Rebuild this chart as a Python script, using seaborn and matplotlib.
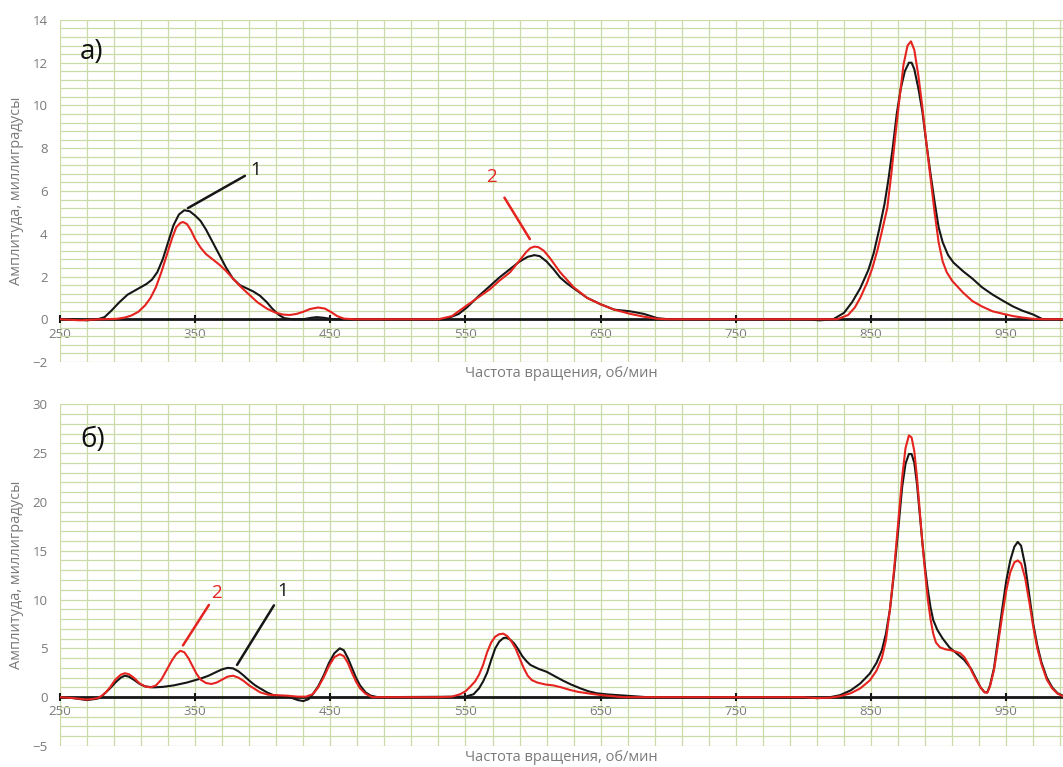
import numpy as np
import pandas as pd
import matplotlib.pyplot as plt
import seaborn as sns
from matplotlib.ticker import MultipleLocator

# а) верхний график: кривая 1 (чёрная) и кривая 2 (красная)
rpm_a1 = [250, 260, 270, 278, 283, 288, 294, 300, 307, 314, 318, 322, 326, 330, 334, 338, 342, 346,
          350, 354, 358, 363, 368, 373, 378, 383, 388, 393, 398, 403, 407, 412, 416, 422, 430, 436,
          440, 445, 452, 500, 535, 545, 551, 560, 568, 575, 583, 590, 596, 601, 605, 610, 615, 620,
          625, 630, 640, 650, 660, 672, 682, 692, 700, 750, 800, 812, 822, 830, 836, 842, 848, 852,
          856, 860, 863, 866, 869, 872, 875, 878, 880, 882, 885, 888, 891, 894, 897, 900, 903, 907,
          911, 918, 925, 932, 940, 948, 955, 962, 970, 977, 985, 995]
amp_a1 = [0, 0, -0.05, 0, 0.1, 0.4, 0.8, 1.15, 1.4, 1.65, 1.85, 2.2, 2.8, 3.6, 4.4, 4.9, 5.1, 5.05,
          4.85, 4.6, 4.2, 3.6, 3.0, 2.4, 1.9, 1.6, 1.45, 1.3, 1.1, 0.8, 0.5, 0.2, 0.05, 0, 0, 0.07,
          0.1, 0.07, 0, 0, 0, 0.25, 0.55, 1.1, 1.55, 1.95, 2.35, 2.7, 2.92, 3.0, 2.95, 2.7, 2.35, 1.95,
          1.68, 1.45, 1.0, 0.7, 0.45, 0.37, 0.25, 0.05, 0, 0, 0, -0.05, 0, 0.3, 0.8, 1.45, 2.3, 3.1,
          4.2, 5.4, 6.6, 8.0, 9.6, 10.8, 11.6, 12.0, 12.0, 11.7, 10.8, 9.7, 8.2, 6.8, 5.5, 4.3, 3.6, 3.0,
          2.65, 2.25, 1.9, 1.5, 1.15, 0.85, 0.6, 0.4, 0.22, 0.0, 0, 0]

rpm_a2 = [250, 265, 280, 292, 298, 303, 308, 313, 317, 321, 325, 329, 333, 336, 339, 341, 344, 347,
          350, 354, 358, 363, 368, 373, 378, 384, 390, 396, 403, 409, 415, 420, 425, 430, 435, 441,
          446, 451, 455, 460, 468, 530, 540, 551, 560, 568, 575, 583, 590, 595, 598, 601, 604, 608,
          612, 616, 620, 625, 630, 640, 650, 660, 672, 682, 692, 700, 800, 825, 833, 838, 842, 847,
          851, 855, 858, 862, 865, 868, 871, 874, 877, 879.5, 882, 885, 888, 891, 894, 897, 900, 903,
          906, 910, 918, 925, 932, 940, 948, 955, 962, 970, 978, 995]
amp_a2 = [0, -0.05, 0, 0.02, 0.08, 0.18, 0.35, 0.65, 1.0, 1.5, 2.2, 3.0, 3.8, 4.3, 4.5, 4.55, 4.45, 4.15,
          3.75, 3.35, 3.05, 2.8, 2.55, 2.25, 1.9, 1.5, 1.15, 0.8, 0.5, 0.32, 0.22, 0.2, 0.25, 0.35, 0.48, 0.55,
          0.5, 0.32, 0.15, 0.03, 0, 0, 0.15, 0.65, 1.05, 1.4, 1.8, 2.2, 2.75, 3.15, 3.33, 3.4, 3.37, 3.2,
          2.9, 2.55, 2.2, 1.85, 1.5, 1.0, 0.7, 0.45, 0.25, 0.12, 0.02, 0, 0, 0, 0.2, 0.55, 1.0, 1.7,
          2.4, 3.3, 4.1, 5.2, 6.8, 8.6, 10.3, 11.9, 12.8, 13.0, 12.6, 11.4, 9.9, 8.2, 6.6, 5.0, 3.6, 2.7,
          2.2, 1.8, 1.25, 0.85, 0.6, 0.37, 0.25, 0.15, 0.08, 0.02, 0, 0]

# б) нижний график
rpm_b1 = [250, 260, 270, 278, 281, 284, 287, 291, 295, 298, 301, 305, 309, 313, 319, 326, 334, 344,
          354, 360, 366, 370, 374, 378, 382, 386, 390, 394, 398, 403, 408, 415, 420, 426, 430, 434,
          437, 441, 445, 449, 453, 457, 460, 463, 466, 469, 472, 476, 480, 485, 550, 556, 560, 563,
          566, 569, 572, 575, 578, 580, 583, 586, 589, 592, 595, 598, 604, 610, 616, 622, 628, 635,
          641, 647, 655, 664, 674, 684, 800, 810, 818, 827, 835, 842, 849, 854, 858, 861, 864, 867,
          870, 873, 875.5, 878, 880, 882, 884, 886, 888, 890, 892, 894, 896, 899, 903, 908, 914, 919,
          924, 928, 931, 934, 936, 938, 941, 944, 947, 950, 953, 956, 958.5, 961, 964, 967, 970, 973,
          976, 980, 984, 988, 992, 995]
amp_b1 = [0, -0.1, -0.3, -0.15, 0.1, 0.5, 0.9, 1.5, 2.0, 2.2, 2.1, 1.75, 1.35, 1.1, 1.0, 1.05, 1.2, 1.5,
          1.9, 2.2, 2.6, 2.85, 3.0, 2.95, 2.65, 2.2, 1.7, 1.25, 0.9, 0.5, 0.2, 0.05, 0, -0.3, -0.4, -0.2,
          0.3, 1.1, 2.2, 3.5, 4.5, 5.0, 4.8, 4.0, 3.0, 2.0, 1.2, 0.5, 0.15, 0, 0.05, 0.3, 0.9, 1.6,
          2.5, 3.8, 5.0, 5.7, 6.05, 6.1, 5.9, 5.5, 4.9, 4.2, 3.7, 3.3, 2.9, 2.6, 2.15, 1.7, 1.3, 0.9,
          0.6, 0.4, 0.28, 0.2, 0.1, 0, 0, -0.1, -0.05, 0.2, 0.7, 1.4, 2.4, 3.5, 4.8, 6.5, 9.0, 12.7,
          17.0, 21.5, 23.9, 24.9, 24.9, 24.0, 21.8, 18.8, 15.8, 13.2, 11.0, 9.2, 7.9, 6.9, 6.0, 5.1, 4.4, 3.8,
          2.9, 1.8, 1.0, 0.5, 0.5, 1.2, 3.0, 6.0, 9.0, 11.9, 14.0, 15.4, 15.9, 15.5, 13.5, 10.5, 7.5, 5.3,
          3.6, 2.0, 1.0, 0.4, 0.15, 0.05]

rpm_b2 = [250, 260, 270, 278, 281, 284, 287, 291, 295, 298, 301, 305, 309, 313, 317, 321, 325, 329,
          333, 336, 339, 342, 345, 348, 351, 354, 358, 362, 366, 370, 374, 378, 382, 386, 390, 394,
          398, 404, 410, 418, 426, 432, 437, 441, 445, 449, 453, 457, 460, 463, 466, 469, 472, 476,
          481, 530, 540, 546, 550, 553, 557, 560, 563, 566, 569, 572, 575, 578, 581, 584, 587, 590,
          593, 596, 599, 603, 609, 615, 621, 627, 633, 640, 648, 657, 667, 800, 810, 820, 827, 835,
          842, 849, 854, 858, 861, 864, 867, 870, 873, 875.5, 878, 880, 882, 884, 886, 888, 890, 892,
          894, 896, 898, 901, 905, 909, 913, 916, 919, 922, 925, 928, 931, 934, 936, 938, 941, 944,
          947, 950, 953, 956, 958.5, 961, 964, 967, 970, 973, 976, 980, 984, 988, 992, 995]
amp_b2 = [0, -0.1, -0.25, -0.1, 0.15, 0.5, 1.0, 1.8, 2.3, 2.45, 2.35, 1.95, 1.4, 1.1, 1.0, 1.2, 1.8, 2.8,
          3.8, 4.4, 4.75, 4.6, 4.0, 3.2, 2.4, 1.8, 1.45, 1.35, 1.5, 1.8, 2.1, 2.2, 2.0, 1.65, 1.2, 0.85,
          0.5, 0.25, 0.2, 0.15, 0.05, 0.05, 0.3, 1.0, 2.0, 3.2, 4.1, 4.4, 4.2, 3.5, 2.5, 1.6, 0.9, 0.35,
          0, 0, 0.05, 0.3, 0.6, 1.0, 1.6, 2.3, 3.3, 4.6, 5.6, 6.2, 6.45, 6.5, 6.25, 5.7, 5.0, 4.0,
          3.0, 2.2, 1.75, 1.5, 1.3, 1.2, 1.0, 0.75, 0.55, 0.4, 0.25, 0.12, 0, 0, -0.1, -0.05, 0.1, 0.4,
          0.9, 1.7, 2.7, 4.0, 5.8, 9.0, 13.0, 17.8, 22.5, 25.5, 26.8, 26.6, 25.2, 22.5, 19.2, 15.8, 12.8, 10.0,
          8.0, 6.5, 5.6, 5.1, 4.9, 4.8, 4.65, 4.5, 4.1, 3.4, 2.5, 1.7, 1.0, 0.5, 0.45, 1.1, 2.8, 5.5,
          8.3, 10.9, 12.8, 13.8, 14.0, 13.7, 12.2, 9.8, 7.2, 5.0, 3.4, 1.8, 0.9, 0.35, 0.1, 0.05]

x_ticks = [250, 350, 450, 550, 650, 750, 850, 950]

GRID = '#cbdba8'
GRAY = '#7a7a7a'
RED = '#e5231f'
BLACK = '#161616'

sns.set_theme(style='white')
plt.rcParams['font.family'] = ['Open Sans', 'DejaVu Sans']


def draw_panel(ax, rpm1, amp1, rpm2, amp2, ylim, ystep, yminor, letter, notes):
    df1 = pd.DataFrame({'rpm': rpm1, 'amp': amp1})
    df2 = pd.DataFrame({'rpm': rpm2, 'amp': amp2})
    sns.lineplot(data=df1, x='rpm', y='amp', ax=ax, color=BLACK, lw=1.5, zorder=4,
                 solid_joinstyle='round')
    sns.lineplot(data=df2, x='rpm', y='amp', ax=ax, color=RED, lw=1.5, zorder=5,
                 solid_joinstyle='round')

    ax.set_xlim(250, 992)
    ax.set_ylim(*ylim)
    ax.set_xticks(x_ticks)
    ax.xaxis.set_minor_locator(MultipleLocator(20, offset=10))
    ax.yaxis.set_major_locator(MultipleLocator(ystep))
    ax.yaxis.set_minor_locator(MultipleLocator(yminor))
    ax.grid(which='both', color=GRID, lw=0.9)
    ax.set_axisbelow(True)

    for s in ['top', 'right', 'left']:
        ax.spines[s].set_visible(False)
    ax.spines['bottom'].set_position(('data', 0))
    ax.spines['bottom'].set_color(BLACK)
    ax.spines['bottom'].set_linewidth(2.0)
    ax.spines['bottom'].set_zorder(3)

    ax.tick_params(axis='x', which='major', direction='inout', length=6, width=1.5,
                   color=BLACK, labelcolor=GRAY, labelsize=9.5, pad=3, bottom=True)
    ax.tick_params(axis='x', which='minor', length=0)
    ax.tick_params(axis='y', which='both', length=0, labelcolor=GRAY, labelsize=9.5, pad=9)

    ax.set_xlabel('Частота вращения, об/мин', color=GRAY, fontsize=10.5)
    ax.xaxis.set_label_coords(0.5, -0.012)
    ax.set_ylabel('Амплитуда, миллиградусы', color=GRAY, fontsize=10.5)
    ax.yaxis.set_label_coords(-0.036, 0.5)

    ax.text(0.02, letter, 'а)' if ylim[1] < 20 else 'б)', transform=ax.transAxes,
            fontsize=20, color='#111111', va='center', ha='left')

    for label, color, xy, xytext, gap in notes:
        ax.annotate(label, xy=xy, xytext=xytext, color=color, fontsize=13.5,
                    ha='center', va='center',
                    arrowprops=dict(arrowstyle='-', color=color, lw=1.8,
                                    shrinkA=gap, shrinkB=0))


fig = plt.figure(figsize=(10.63, 7.67), dpi=100)
ax_a = fig.add_axes([0.0564, 0.528, 0.9436, 0.446])
ax_b = fig.add_axes([0.0564, 0.0274, 0.9436, 0.4456])

draw_panel(ax_a, rpm_a1, amp_a1, rpm_a2, amp_a2, (-2, 14), 2, 0.4, 0.905,
           [('1', BLACK, (344.7, 5.2), (395, 7.0), 2),
            ('2', RED, (597.6, 3.75), (569.5, 6.65), 7)])
draw_panel(ax_b, rpm_b1, amp_b1, rpm_b2, amp_b2, (-5, 30), 5, 1, 0.895,
           [('1', BLACK, (381, 3.3), (415, 10.9), 2),
            ('2', RED, (341, 5.3), (366, 10.7), 0)])

fig.savefig('out.png', dpi=100)
